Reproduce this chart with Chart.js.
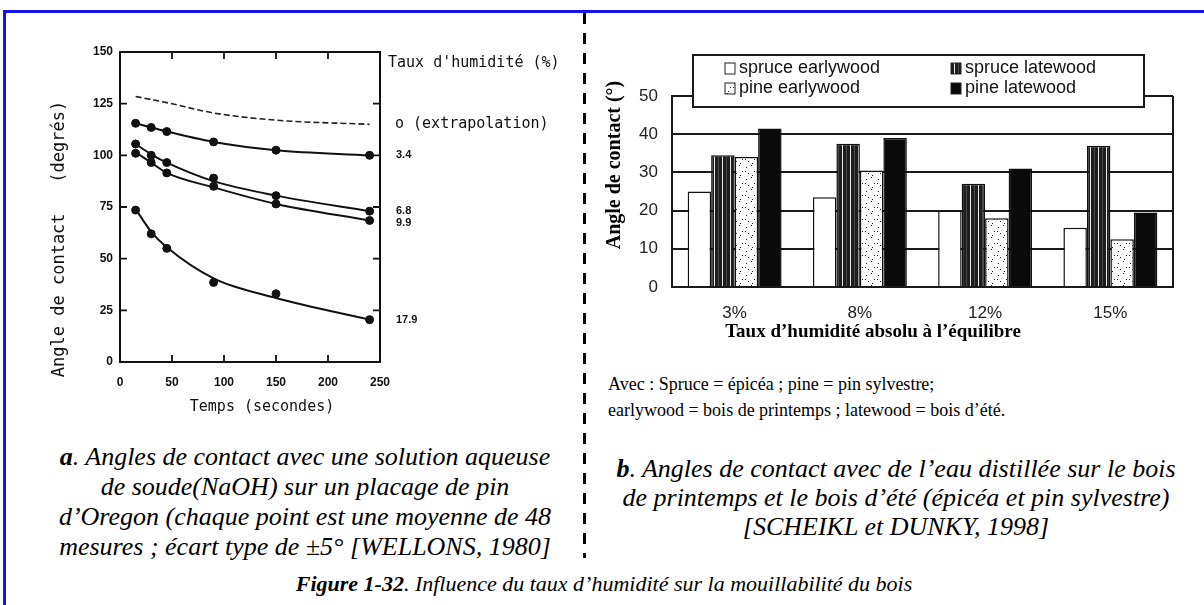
<!DOCTYPE html>
<html lang="fr">
<head>
<meta charset="utf-8">
<title>Figure 1-32</title>
<script src="https://cdn.jsdelivr.net/npm/chart.js@4.4.1/dist/chart.umd.min.js"></script>
<style>
  html, body { margin: 0; padding: 0; background: #fff; }
  #page { position: relative; width: 1204px; height: 605px; overflow: hidden; font-family: 'Liberation Serif', 'Times New Roman', serif; color: #000; }
  .cadre { position: absolute; left: 3px; top: 10px; width: 1240px; height: 640px; border-left: 3px solid #1414f0; border-top: 3px solid #1414f0; }
  .separateur { position: absolute; left: 583px; top: 13px; width: 3px; height: 545px; background: repeating-linear-gradient(to bottom, #000 0 11px, transparent 11px 20px); }
  #boiteA { position: absolute; left: 0; top: 0; width: 585px; height: 430px; }
  #boiteB { position: absolute; left: 588px; top: 20px; width: 616px; height: 330px; }
  .legende { position: absolute; font-style: italic; font-size: 26px; line-height: 30px; text-align: center; white-space: nowrap; }
  .note { position: absolute; left: 608px; top: 371px; font-size: 18px; line-height: 26px; white-space: nowrap; }
</style>
</head>
<body>
<div id="page">
  <div class="cadre"></div>
  <div class="separateur"></div>
  <div id="boiteA"><canvas id="graphA" width="585" height="430"></canvas></div>
  <div id="boiteB"><canvas id="graphB" width="616" height="330"></canvas></div>
  <div class="note">Avec : Spruce = épicéa ; pine = pin sylvestre;<br>earlywood = bois de printemps ; latewood = bois d’été.</div>
  <div class="legende" style="left:10px; width:590px; top:442px;">
    <b>a</b>. Angles de contact avec une solution aqueuse<br>
    de soude(NaOH) sur un placage de pin<br>
    d’Oregon (chaque point est une moyenne de 48<br>
    mesures ; écart type de ±5° [WELLONS, 1980]
  </div>
  <div class="legende" style="left:596px; width:600px; top:454px; line-height:29px;">
    <b>b</b>. Angles de contact avec de l’eau distillée sur le bois<br>
    de printemps et le bois d’été (épicéa et pin sylvestre)<br>
    [SCHEIKL et DUNKY, 1998]
  </div>
  <div class="legende" style="left:4px; width:1200px; top:570px; font-size:22px; line-height:28px;">
    <b>Figure 1-32</b>. Influence du taux d’humidité sur la mouillabilité du bois
  </div>
</div>
<script>
// --- graphique a : angle de contact (NaOH) selon le temps ---
const tempsSec = [15, 30, 45, 90, 150, 240];
const etiquettesHumidite = ['o (extrapolation)', '3.4', '6.8', '9.9', '17.9'];
// points mesurés
const angleH34 = [115.5, 113.5, 111.5, 106.5, 102.5, 100];
const angleH68 = [105.5, 100, 96.5, 89, 80.5, 73];
const angleH99 = [101, 96.5, 91.5, 85, 76.5, 68.5];
const angleH179 = [73.5, 62, 55, 38.5, 33, 20.5];
// courbes lissées
const courbeH0 = [128.5, 127, 125.5, 120.5, 117, 115];   // extrapolation (tirets)
const courbeH34 = [115.5, 113.5, 111.5, 106.5, 102.5, 100];
const courbeH68 = [105.5, 100.5, 96.5, 87.5, 80.5, 73];
const courbeH99 = [101.5, 96.5, 91.5, 84.5, 76.5, 68.5];
const courbeH179 = [74, 63, 55.5, 40.5, 31, 20.5];

// --- graphique b : eau distillée, bois de printemps / d'été ---
const tauxHumidite = ['3%', '8%', '12%', '15%'];
const nomsSeries = ['spruce earlywood', 'spruce latewood', 'pine earlywood', 'pine latewood'];
const spruceEarly = [25, 23.5, 20, 15.5];
const spruceLate = [34.5, 37.5, 27, 37];
const pineEarly = [34, 30.5, 18, 12.5];
const pineLate = [41.5, 39, 31, 19.5];

const versPoints = arr => tempsSec.map((t, i) => ({ x: t, y: arr[i] }));

// motifs de remplissage (texture seulement)
function motifRayures() {
    const c = document.createElement('canvas');
    c.width = 8; c.height = 8;
    const g = c.getContext('2d');
    g.fillStyle = '#1e1e1e';
    g.fillRect(0, 0, 8, 8);
    g.fillStyle = '#4a4a4a';
    g.fillRect(2, 0, 1, 8);
    g.fillStyle = '#e8e8e8';
    g.fillRect(6, 0, 1, 8);
    return g.createPattern(c, 'repeat');
}
function motifPoints() {
    const c = document.createElement('canvas');
    c.width = 12; c.height = 12;
    const g = c.getContext('2d');
    g.fillStyle = '#fff';
    g.fillRect(0, 0, 12, 12);
    g.fillStyle = '#222';
    [[2, 3], [7, 1], [10, 7], [4, 9], [8, 11], [1, 7]].forEach(([px, py]) => g.fillRect(px, py, 1, 1));
    return g.createPattern(c, 'repeat');
}

const cadreA = {
    id: 'cadreA',
    afterDraw(chart) {
        const { ctx, chartArea: a, scales: { x, y } } = chart;
        ctx.save();
        ctx.strokeStyle = '#111';
        ctx.lineWidth = 2;
        ctx.strokeRect(a.left, a.top, a.right - a.left, a.bottom - a.top);
        // graduations vers l'intérieur sur les 4 côtés
        ctx.lineWidth = 1.8;
        ctx.beginPath();
        x.ticks.forEach(t => {
            const px = x.getPixelForValue(t.value);
            ctx.moveTo(px, a.bottom); ctx.lineTo(px, a.bottom - 7);
            ctx.moveTo(px, a.top); ctx.lineTo(px, a.top + 7);
        });
        y.ticks.forEach(t => {
            const py = y.getPixelForValue(t.value);
            ctx.moveTo(a.left, py); ctx.lineTo(a.left + 7, py);
            ctx.moveTo(a.right, py); ctx.lineTo(a.right - 7, py);
        });
        ctx.stroke();

        // étiquettes des courbes à droite (fin de chaque courbe)
        ctx.fillStyle = '#111';
        ctx.textBaseline = 'middle';
        ctx.textAlign = 'left';
        ctx.font = '15px "DejaVu Sans Mono", monospace';
        ctx.fillText("Taux d'humidité (%)", a.right + 8, 63);
        let dernierY = -100;
        chart.data.datasets.filter(ds => ds.courbe).forEach((ds, i) => {
            let py = y.getPixelForValue(ds.data[ds.data.length - 1].y);
            if (py - dernierY < 12) py = dernierY + 12;
            dernierY = py;
            if (i === 0) {
                ctx.font = '15px "DejaVu Sans Mono", monospace';
                ctx.fillText(etiquettesHumidite[i], a.right + 15, py);
            } else {
                ctx.font = 'bold 11px "Liberation Sans", Arial, sans-serif';
                ctx.fillText(etiquettesHumidite[i], a.right + 16, py);
            }
        });

        // titres des axes
        ctx.textAlign = 'center';
        ctx.font = '15px "DejaVu Sans Mono", monospace';
        ctx.fillText('Temps (secondes)', 262, 407);
        ctx.translate(60, 239);
        ctx.rotate(-Math.PI / 2);
        ctx.font = '17px "DejaVu Sans Mono", monospace';
        ctx.fillText('Angle de contact   (degrés)', 0, 0);
        ctx.restore();
    }
};

const legendeB = {
    id: 'legendeB',
    afterDraw(chart) {
        const { ctx, chartArea: a } = chart;
        ctx.save();
        // cadre à droite
        ctx.strokeStyle = '#1a1a1a';
        ctx.lineWidth = 2;
        ctx.beginPath();
        ctx.moveTo(a.right, a.top); ctx.lineTo(a.right, a.bottom);
        ctx.stroke();
        // boîte de légende qui chevauche le haut du graphique
        ctx.fillStyle = '#fff';
        ctx.fillRect(105, 35, 451, 52);
        ctx.strokeRect(105, 35, 451, 52);
        const pos = [[137, 48], [363, 48], [137, 68], [363, 68]];
        chart.data.datasets.forEach((ds, i) => {
            const [lx, ly] = pos[i];
            ctx.fillStyle = ds.backgroundColor;
            ctx.fillRect(lx, ly - 5, 10, 11);
            ctx.lineWidth = 1;
            ctx.strokeStyle = '#222';
            ctx.strokeRect(lx, ly - 5, 10, 11);
            ctx.fillStyle = '#111';
            ctx.font = '18px "Liberation Sans", Arial, sans-serif';
            ctx.textAlign = 'left';
            ctx.textBaseline = 'middle';
            ctx.fillText(ds.label, lx + 14, ly);
        });
        // titres des axes
        ctx.fillStyle = '#000';
        ctx.textAlign = 'center';
        ctx.font = 'bold 19px "Liberation Serif", "Times New Roman", serif';
        ctx.fillText('Taux d’humidité absolu à l’équilibre', 285, 312);
        ctx.translate(27, 145);
        ctx.rotate(-Math.PI / 2);
        ctx.font = 'bold 20px "Liberation Serif", "Times New Roman", serif';
        ctx.fillText('Angle de contact (°)', 0, 0);
        ctx.restore();
    }
};

const styleCourbe = { courbe: true, borderColor: '#111', borderWidth: 2, pointRadius: 0, cubicInterpolationMode: 'monotone', fill: false };
const stylePoints = { showLine: false, backgroundColor: '#111', borderColor: '#111', pointRadius: 4, pointHoverRadius: 4 };

new Chart(document.getElementById('graphA'), {
    type: 'line',
    data: {
        datasets: [
            { label: etiquettesHumidite[0], data: versPoints(courbeH0), ...styleCourbe, borderColor: '#222', borderWidth: 1.6, borderDash: [6, 3] },
            { label: etiquettesHumidite[1], data: versPoints(courbeH34), ...styleCourbe },
            { label: etiquettesHumidite[2], data: versPoints(courbeH68), ...styleCourbe },
            { label: etiquettesHumidite[3], data: versPoints(courbeH99), ...styleCourbe },
            { label: etiquettesHumidite[4], data: versPoints(courbeH179), ...styleCourbe },
            { label: etiquettesHumidite[1] + ' mesures', data: versPoints(angleH34), ...stylePoints },
            { label: etiquettesHumidite[2] + ' mesures', data: versPoints(angleH68), ...stylePoints },
            { label: etiquettesHumidite[3] + ' mesures', data: versPoints(angleH99), ...stylePoints },
            { label: etiquettesHumidite[4] + ' mesures', data: versPoints(angleH179), ...stylePoints }
        ]
    },
    options: {
        responsive: false,
        animation: false,
        layout: { padding: { left: 0, right: 205, top: 52, bottom: 0 } },
        plugins: { legend: { display: false }, tooltip: { enabled: false } },
        scales: {
            x: {
                type: 'linear', min: 0, max: 250,
                ticks: { stepSize: 50, color: '#111', padding: 13, font: { family: '"Liberation Sans", Arial, sans-serif', size: 12, weight: 'bold' } },
                grid: { display: false, drawTicks: false },
                border: { display: false },
                afterFit: s => { s.height = 68; }
            },
            y: {
                min: 0, max: 150,
                ticks: { stepSize: 25, color: '#111', padding: 7, font: { family: '"Liberation Sans", Arial, sans-serif', size: 12, weight: 'bold' } },
                grid: { display: false, drawTicks: false },
                border: { display: false },
                afterFit: s => { s.width = 120; }
            }
        }
    },
    plugins: [cadreA]
});

const seriesB = [spruceEarly, spruceLate, pineEarly, pineLate];
const remplissages = ['#ffffff', motifRayures(), motifPoints(), '#0a0a0a'];

new Chart(document.getElementById('graphB'), {
    type: 'bar',
    data: {
        labels: tauxHumidite,
        datasets: seriesB.map((vals, i) => ({
            label: nomsSeries[i],
            data: vals,
            backgroundColor: remplissages[i],
            borderColor: '#111',
            borderWidth: 1.5,
            categoryPercentage: 0.75,
            barPercentage: 1
        }))
    },
    options: {
        responsive: false,
        animation: false,
        layout: { padding: { left: 0, right: 31, top: 76, bottom: 0 } },
        plugins: { legend: { display: false }, tooltip: { enabled: false } },
        scales: {
            x: {
                ticks: { color: '#222', padding: 16, font: { family: '"Liberation Sans", Arial, sans-serif', size: 17 } },
                grid: { display: false, drawTicks: false },
                border: { display: true, color: '#1a1a1a', width: 2 },
                afterFit: s => { s.height = 63; }
            },
            y: {
                min: 0, max: 50,
                ticks: { stepSize: 10, color: '#222', padding: 14, font: { family: '"Liberation Sans", Arial, sans-serif', size: 17 } },
                grid: { color: '#1a1a1a', lineWidth: 2, drawTicks: false },
                border: { display: true, color: '#1a1a1a', width: 2 },
                afterFit: s => { s.width = 84; }
            }
        }
    },
    plugins: [legendeB]
});
</script>
</body>
</html>
